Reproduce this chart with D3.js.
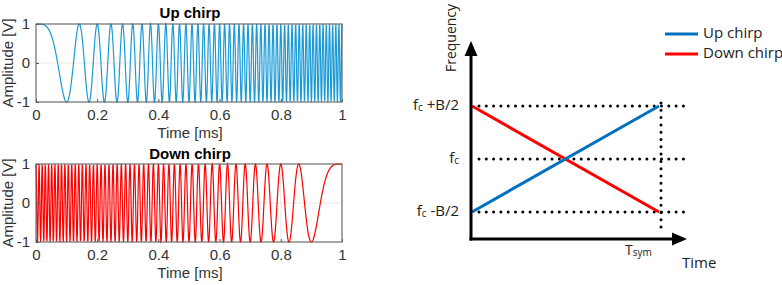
<!DOCTYPE html>
<html>
<head>
<meta charset="utf-8">
<script src="https://cdn.jsdelivr.net/npm/d3@7"></script>
<style>
  body { margin: 0; background: #fff; }
  svg { display: block; }
</style>
</head>
<body>
<div id="vis"></div>
<script>
// chirp settings: phase reaches pi at 0.1 ms -> 100 kHz sweep over 1 ms
var chirpNames = ['Up chirp', 'Down chirp'];
var chirpColors = ['#1a9ad6', '#ff0000'];
var sweepKHz = [100, 100];
var durationMs = 1;
var sampleCount = 1001;
var timeTicks = [0, 0.2, 0.4, 0.6, 0.8, 1];
var ampTicks = [-1, 0, 1];

// schematic panel
var freqLevels = [1, 0, -1];
var freqLabels = [['f', 'c', ' +B/2'], ['f', 'c', ''], ['f', 'c', ' -B/2']];
var upLine = [{t: 0, f: -1}, {t: 1, f: 1}];
var downLine = [{t: 0, f: 1}, {t: 1, f: -1}];
var legendNames = ['Up chirp', 'Down chirp'];
var legendColors = ['#0070c0', '#ff0000'];

var width = 782, height = 285;
var svg = d3.select('#vis').append('svg')
    .attr('width', width)
    .attr('height', height);

function chirpSample(kind, t)
{
    var k = Math.PI * sweepKHz[kind];
    var u = kind == 0 ? t : durationMs - t;
    return Math.cos(k * u * u);
}

var panels = [{top: 24, bottom: 102, title: 14}, {top: 164, bottom: 242, title: 155}];
var left = 36, right = 342;
var helv = 'Liberation Sans, Arial, sans-serif';

var x_scale = d3.scaleLinear().domain([0, durationMs]).range([left, right]);

panels.forEach(function(p, kind) {
    var y_scale = d3.scaleLinear().domain([-1, 1]).range([p.bottom, p.top]);
    var g = svg.append('g');

    // grid
    g.selectAll('.gx').data(timeTicks).enter().append('line')
        .attr('x1', function(d){ return x_scale(d); })
        .attr('x2', function(d){ return x_scale(d); })
        .attr('y1', p.top).attr('y2', p.bottom)
        .attr('stroke', '#e3e3e3').attr('stroke-width', 0.8);
    g.selectAll('.gy').data(ampTicks).enter().append('line')
        .attr('y1', function(d){ return y_scale(d); })
        .attr('y2', function(d){ return y_scale(d); })
        .attr('x1', left).attr('x2', right)
        .attr('stroke', '#e3e3e3').attr('stroke-width', 0.8);

    var data = d3.range(sampleCount).map(function(i) {
        var t = i * durationMs / (sampleCount - 1);
        return {t: t, v: chirpSample(kind, t)};
    });

    g.append('path')
        .datum(data)
        .attr('fill', 'none')
        .attr('stroke', chirpColors[kind])
        .attr('stroke-width', 1.2)
        .attr('d', d3.line()
            .x(function(d){ return x_scale(d.t); })
            .y(function(d){ return y_scale(d.v); }));

    g.append('rect')
        .attr('x', left).attr('y', p.top)
        .attr('width', right - left).attr('height', p.bottom - p.top)
        .attr('fill', 'none').attr('stroke', '#5a5a5a').attr('stroke-width', 1);

    var fmt = function(d){ return String(d); };
    var xAxis = g.append('g')
        .attr('transform', 'translate(0,' + p.bottom + ')')
        .call(d3.axisBottom(x_scale).tickValues(timeTicks).tickSize(-3).tickPadding(7).tickFormat(fmt));
    var yAxis = g.append('g')
        .attr('transform', 'translate(' + left + ',0)')
        .call(d3.axisLeft(y_scale).tickValues(ampTicks).tickSize(-3).tickPadding(6).tickFormat(fmt));
    [xAxis, yAxis].forEach(function(a) {
        a.select('.domain').remove();
        a.selectAll('line').attr('stroke', '#5a5a5a');
        a.selectAll('text')
            .attr('fill', '#333')
            .style('font-family', helv)
            .style('font-size', '15px');
    });

    g.append('text')
        .attr('x', (left + right) / 2 + 1).attr('y', p.title)
        .attr('text-anchor', 'middle').attr('dominant-baseline', 'middle')
        .style('font-family', helv)
        .style('font-size', '15px').style('font-weight', 'bold')
        .text(chirpNames[kind]);

    g.append('text')
        .attr('x', (left + right) / 2 + 1).attr('y', p.bottom + 32)
        .attr('text-anchor', 'middle').attr('dominant-baseline', 'middle')
        .attr('fill', '#333')
        .style('font-family', helv)
        .style('font-size', '15px')
        .text('Time [ms]');

    g.append('text')
        .attr('transform', 'translate(9,' + ((p.top + p.bottom) / 2) + ') rotate(-90)')
        .attr('text-anchor', 'middle').attr('dominant-baseline', 'middle')
        .attr('fill', '#333')
        .style('font-family', helv)
        .style('font-size', '15px')
        .text('Amplitude [V]');
});

// ---- frequency vs time sketch
var ox = 471, oy = 239;
var t_scale = d3.scaleLinear().domain([0, 1]).range([ox + 1, 659]);
var f_scale = d3.scaleLinear().domain([-1, 1]).range([212, 106]);
var sans = 'Open Sans, Noto Sans, sans-serif';
var sk = svg.append('g');

// dotted guides
sk.selectAll('.hdot').data(freqLevels).enter().append('line')
    .attr('x1', ox + 8).attr('x2', 686)
    .attr('y1', function(d){ return f_scale(d); })
    .attr('y2', function(d){ return f_scale(d); })
    .attr('stroke', '#000').attr('stroke-width', 3)
    .attr('stroke-linecap', 'round').attr('stroke-dasharray', '0 7.3');
sk.append('line')
    .attr('x1', t_scale(1) + 2).attr('x2', t_scale(1) + 2)
    .attr('y1', f_scale(1) - 3).attr('y2', 232)
    .attr('stroke', '#000').attr('stroke-width', 3)
    .attr('stroke-linecap', 'round').attr('stroke-dasharray', '0 7.3');

var fline = d3.line()
    .x(function(d){ return t_scale(d.t); })
    .y(function(d){ return f_scale(d.f); });
sk.append('path').datum(downLine).attr('d', fline)
    .attr('stroke', legendColors[1]).attr('stroke-width', 3).attr('fill', 'none');
sk.append('path').datum(upLine).attr('d', fline)
    .attr('stroke', legendColors[0]).attr('stroke-width', 3).attr('fill', 'none');

// axes with arrows
sk.append('line').attr('x1', ox).attr('x2', ox).attr('y1', oy + 1.5).attr('y2', 54)
    .attr('stroke', '#000').attr('stroke-width', 3);
sk.append('line').attr('x1', ox - 1.5).attr('x2', 675).attr('y1', oy).attr('y2', oy)
    .attr('stroke', '#000').attr('stroke-width', 3);
sk.append('path')
    .attr('d', 'M' + ox + ',41 L' + (ox - 6.5) + ',56 L' + (ox + 6.5) + ',56 Z')
    .attr('fill', '#000');
sk.append('path')
    .attr('d', 'M687,' + oy + ' L672,' + (oy - 6.5) + ' L672,' + (oy + 6.5) + ' Z')
    .attr('fill', '#000');

// level labels
var lab = sk.selectAll('.flab').data(freqLevels).enter().append('text')
    .attr('x', 459)
    .attr('y', function(d){ return f_scale(d); })
    .attr('text-anchor', 'end').attr('dominant-baseline', 'middle')
    .attr('fill', '#222')
    .style('font-family', sans).style('font-size', '15px');
lab.append('tspan').text(function(d, i){ return freqLabels[i][0]; });
lab.append('tspan').style('font-size', '10px').attr('dy', 2)
    .text(function(d, i){ return freqLabels[i][1]; });
lab.append('tspan').attr('dy', -2)
    .text(function(d, i){ return freqLabels[i][2]; });

var ts = sk.append('text')
    .attr('x', 625).attr('y', 251)
    .attr('dominant-baseline', 'middle')
    .attr('fill', '#222')
    .style('font-family', sans).style('font-size', '14px');
ts.append('tspan').text('T');
ts.append('tspan').style('font-size', '10px').attr('dy', 2).text('sym');

sk.append('text')
    .attr('x', 682).attr('y', 264)
    .attr('dominant-baseline', 'middle')
    .attr('fill', '#222')
    .style('font-family', sans).style('font-size', '15px')
    .text('Time');

sk.append('text')
    .attr('transform', 'translate(452,38) rotate(-90)')
    .attr('text-anchor', 'middle').attr('dominant-baseline', 'middle')
    .attr('fill', '#222')
    .style('font-family', sans).style('font-size', '14px')
    .text('Frequency');

// legend
var leg = sk.selectAll('.leg').data(legendNames).enter().append('g')
    .attr('transform', function(d, i){ return 'translate(665,' + (34 + i * 20) + ')'; });
leg.append('line').attr('x1', 0).attr('x2', 33).attr('y1', 0).attr('y2', 0)
    .attr('stroke', function(d, i){ return legendColors[i]; }).attr('stroke-width', 3);
leg.append('text').attr('x', 38).attr('y', 0)
    .attr('dominant-baseline', 'middle')
    .attr('fill', '#222')
    .style('font-family', sans).style('font-size', '15px')
    .text(function(d){ return d; });
</script>
</body>
</html>
